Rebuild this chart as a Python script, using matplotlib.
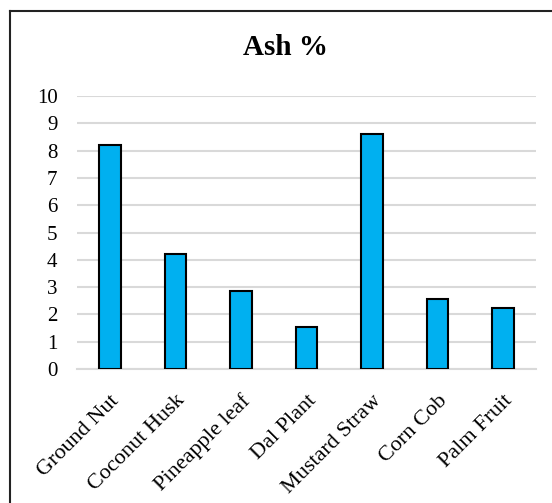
import matplotlib.pyplot as plt
from matplotlib.lines import Line2D

# ash content per biomass source
materials = ['Ground Nut', 'Coconut Husk', 'Pineapple leaf', 'Dal Plant',
             'Mustard Straw', 'Corn Cob', 'Palm Fruit']
ash = [8.2, 4.2, 2.87, 1.53, 8.6, 2.55, 2.25]
yticks = list(range(0, 11))

plt.rcParams['font.family'] = ['Liberation Serif', 'DejaVu Serif']

fig = plt.figure(figsize=(5.52, 5.03), dpi=100)
ax = fig.add_axes([77 / 552, 0.2664, 459 / 552, 0.5427])

x = range(len(materials))
ax.bar(x, ash, width=0.33, color='#00b0f0', edgecolor='black', linewidth=1.5, zorder=3)

ax.set_ylim(0, 10)
ax.set_xlim(-0.5, len(materials) - 0.5)
ax.set_yticks(yticks)
ax.set_yticklabels([str(t) for t in yticks], fontsize=15)
ax.set_xticks(list(x))
ax.set_xticklabels(materials, fontsize=16, rotation=45, ha='right',
                   rotation_mode='anchor')
ax.tick_params(axis='both', length=0)
ax.tick_params(axis='x', pad=16)
ax.tick_params(axis='y', pad=14)

ax.grid(axis='y', color='#d9d9d9', linewidth=1.5, zorder=0)
for side in ['top', 'right', 'left']:
    ax.spines[side].set_visible(False)
ax.spines['bottom'].set_color('#d9d9d9')
ax.spines['bottom'].set_linewidth(1.5)

fig.text(0.517, 0.905, 'Ash %', ha='center', va='center', fontsize=21,
         fontweight='bold')

# frame around the chart area (top and left edges)
fig.add_artist(Line2D([10 / 552, 1.0], [1 - 11 / 503, 1 - 11 / 503],
                      color='#222222', linewidth=1.5, transform=fig.transFigure))
fig.add_artist(Line2D([10 / 552, 10 / 552], [0.0, 1 - 11 / 503],
                      color='#222222', linewidth=1.5, transform=fig.transFigure))

fig.savefig('out.png', dpi=100)
